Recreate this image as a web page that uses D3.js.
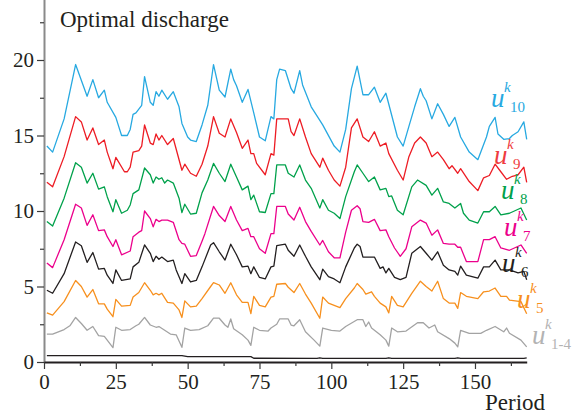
<!DOCTYPE html>
<html lang="en">
<head>
  <meta charset="utf-8">
  <title>Optimal discharge</title>
  <script src="https://d3js.org/d3.v7.min.js"></script>
  <style>
    body { margin: 0; background: #fff; }
    svg { display: block; }
    .series { fill: none; stroke-width: 1.3; stroke-linejoin: round; }
    .yaxis path.domain { stroke: #8a8a8a; stroke-width: 2; }
    .xaxis path.domain { stroke: #231f20; stroke-width: 2; }
    .axis line { stroke: #3a3a3a; stroke-width: 1.2; }
  </style>
</head>
<body>
<div id="chart"></div>
<script>
// ---- data: [period, value] ----
var u10 = [[1,14.3],[3,13.9],[7,16.1],[11,19.7],[15,17.6],[17,18.7],[19,17.5],[21,18.0],[22,17.2],[25,16.2],[27,15.0],[29,15.0],[30,15.4],[31,16.4],[32,16.5],[34,17.0],[35,18.9],[37,17.2],[38,17.0],[39,17.9],[40,17.6],[41,18.0],[43,17.4],[45,17.9],[47,16.9],[48,15.8],[50,14.9],[51,14.7],[53,14.6],[55,15.7],[57,17.0],[59,19.7],[61,18.0],[63,17.55],[65,19.4],[66,18.7],[67,18.3],[69,17.2],[71,18.05],[73,16.5],[75,14.9],[77,14.65],[79,16.25],[80,16.1],[81,18.7],[82,19.4],[84,19.3],[86,18.1],[87,17.8],[89,19.3],[90,18.35],[93,16.9],[97,15.7],[101,14.3],[103,13.9],[105,15.4],[107,18.1],[109,19.6],[111,17.7],[113,17.7],[115,18.2],[117,17.2],[119,17.8],[123,14.9],[125,14.3],[127,15.6],[129,16.9],[131,18.1],[132,17.6],[133,17.3],[135,16.1],[137,17.1],[139,16.4],[141,15.6],[143,16.2],[145,14.9],[148,13.9],[151,13.4],[154,14.9],[155,15.6],[157,16.2],[158,15.1],[160,14.75],[162,14.8],[163,15.0],[165,15.25],[167,15.9],[168,14.75]];
var u9 = [[1,11.9],[3,11.6],[7,13.6],[11,16.25],[13,15.9],[15,14.7],[17,15.5],[19,14.4],[21,14.7],[22,13.9],[24,12.8],[25,13.55],[28,12.6],[29,12.6],[30,12.9],[31,13.9],[33,14.0],[34,14.3],[35,15.7],[37,14.5],[38,14.4],[39,15.1],[40,14.7],[41,15.0],[43,14.4],[45,14.8],[48,12.7],[49,13.1],[51,12.5],[53,12.3],[55,13.1],[57,14.3],[59,16.25],[61,15.15],[63,14.9],[65,16.1],[67,15.2],[69,14.15],[71,14.7],[72,13.8],[73,13.8],[74,13.15],[77,12.4],[79,13.8],[80,13.7],[81,16.1],[83,16.1],[85,16.1],[86,15.25],[87,15.0],[89,16.1],[91,14.9],[93,13.8],[96,12.9],[97,13.5],[99,12.7],[101,12.05],[103,11.65],[105,12.9],[107,15.5],[109,16.1],[111,14.9],[113,14.6],[115,15.25],[117,14.3],[119,14.5],[120,13.8],[123,12.7],[125,12.05],[127,13.6],[129,14.5],[131,14.9],[133,14.5],[135,13.6],[137,13.9],[139,13.4],[141,12.8],[142,13.0],[144,12.5],[145,12.8],[148,11.95],[151,11.35],[153,12.2],[155,12.35],[157,13.1],[159,12.6],[161,12.1],[163,12.3],[165,12.4],[167,12.9],[168,11.9]];
var u8 = [[1,9.3],[3,9.0],[7,10.85],[11,13.2],[13,12.9],[15,11.85],[17,12.5],[19,11.45],[21,11.6],[22,10.95],[24,9.95],[25,10.75],[27,9.85],[29,10.05],[30,10.4],[31,11.15],[33,11.4],[35,12.85],[37,12.4],[38,11.85],[39,12.25],[40,12.1],[41,12.2],[42,11.85],[43,12.05],[45,11.85],[47,10.85],[48,9.9],[49,10.45],[51,9.8],[53,9.85],[55,11.2],[57,12.05],[59,13.15],[61,12.5],[63,11.95],[65,13.1],[67,12.25],[69,11.4],[71,11.65],[72,10.75],[73,11.05],[75,9.95],[77,9.9],[79,11.15],[80,11.15],[81,13.05],[84,13.05],[85,12.5],[87,12.25],[89,13.05],[91,12.05],[93,11.5],[96,10.2],[97,10.75],[99,10.05],[101,9.85],[103,9.5],[105,10.95],[108,12.6],[109,13.05],[111,12.5],[113,11.95],[115,12.25],[117,11.4],[119,11.5],[120,10.95],[121,11.0],[123,10.05],[125,9.75],[128,11.6],[130,12.05],[133,11.7],[135,11.05],[137,11.5],[139,10.6],[141,10.5],[143,10.2],[145,10.5],[146,9.85],[148,9.4],[151,9.2],[153,9.95],[155,9.95],[157,10.3],[159,9.75],[162,9.85],[166,10.2],[168,9.4]];
var u7 = [[1,6.55],[3,6.25],[7,8.1],[11,10.45],[13,10.2],[15,9.05],[17,9.75],[19,8.7],[21,8.75],[22,8.3],[24,7.65],[25,8.1],[27,7.1],[30,7.35],[31,8.3],[33,8.6],[34,8.7],[35,10.0],[37,9.5],[38,8.95],[39,9.45],[40,9.3],[41,9.4],[43,9.4],[45,9.25],[47,8.1],[48,7.85],[49,7.8],[51,7.0],[53,7.05],[55,8.0],[56,8.5],[59,10.3],[61,9.7],[63,9.3],[65,10.3],[67,9.4],[69,8.7],[71,8.85],[72,8.3],[73,8.3],[75,7.5],[77,7.2],[79,8.5],[80,8.5],[81,10.3],[84,10.3],[85,9.8],[87,9.4],[89,10.25],[91,9.3],[93,8.65],[96,7.75],[97,8.05],[99,7.3],[101,6.9],[103,6.9],[105,8.6],[107,10.05],[109,10.35],[110,10.15],[111,9.3],[113,9.25],[115,9.45],[117,8.7],[119,8.75],[120,8.3],[122,7.55],[124,7.0],[126,7.5],[128,8.95],[131,9.4],[133,9.2],[135,8.4],[137,8.75],[139,7.85],[141,7.8],[143,7.8],[144,7.6],[145,7.6],[147,6.65],[151,6.65],[153,8.1],[155,8.1],[157,8.3],[159,7.55],[162,7.4],[166,7.75],[168,7.2]];
var u6 = [[1,4.75],[3,4.55],[7,5.85],[11,7.95],[13,7.7],[15,6.6],[17,7.25],[19,6.15],[21,6.2],[22,5.75],[24,5.2],[25,6.1],[27,5.4],[30,5.5],[31,6.3],[33,6.6],[35,7.75],[37,7.2],[38,6.65],[39,7.0],[40,6.8],[41,6.95],[43,6.65],[45,6.75],[46,6.1],[48,5.2],[49,5.85],[51,5.3],[53,5.4],[55,6.3],[58,7.75],[59,7.9],[61,7.3],[63,6.75],[65,7.8],[67,7.1],[69,6.3],[71,6.35],[72,5.85],[73,6.3],[75,5.6],[77,5.5],[79,6.3],[80,6.35],[81,7.7],[84,7.8],[85,7.4],[87,7.0],[89,7.75],[91,7.0],[93,6.3],[96,5.45],[97,6.15],[99,5.65],[101,5.5],[103,5.25],[105,6.3],[108,7.55],[109,7.8],[110,7.65],[111,6.95],[113,6.95],[115,6.95],[117,6.2],[118,6.3],[119,5.9],[120,6.2],[122,5.6],[124,5.45],[126,5.6],[128,7.2],[131,7.65],[133,7.2],[135,6.75],[137,7.3],[139,6.4],[141,6.1],[143,6.0],[144,5.75],[145,6.35],[147,5.75],[151,5.55],[153,6.3],[155,6.3],[157,6.75],[159,6.1],[162,6.1],[165,5.9],[167,6.0],[168,5.45]];
var u5 = [[1,3.25],[3,3.1],[7,4.0],[11,5.4],[13,5.0],[15,4.3],[17,4.8],[19,3.85],[21,3.85],[22,3.5],[24,3.0],[25,4.15],[27,3.7],[30,3.75],[31,4.3],[33,4.6],[35,5.25],[37,4.75],[38,4.45],[39,4.55],[40,4.45],[41,4.55],[43,3.95],[45,3.9],[47,3.45],[48,2.95],[49,4.05],[51,3.65],[53,3.7],[55,4.2],[58,5.0],[59,5.25],[61,5.1],[63,4.55],[65,5.25],[67,4.45],[69,3.95],[71,3.95],[72,3.2],[73,4.35],[75,3.75],[77,3.65],[79,4.3],[80,4.35],[81,5.15],[84,5.2],[85,4.95],[87,4.6],[89,5.2],[91,4.5],[93,3.9],[96,2.9],[97,4.3],[99,3.9],[101,3.75],[103,3.6],[105,4.2],[108,4.9],[109,5.2],[111,4.8],[112,4.5],[114,4.65],[115,4.35],[117,3.9],[119,3.65],[120,3.25],[121,4.35],[123,3.75],[125,3.65],[128,4.55],[131,5.35],[133,5.0],[135,4.7],[137,5.35],[139,4.2],[141,3.9],[143,3.9],[144,3.55],[145,4.6],[147,4.35],[151,4.2],[153,4.65],[155,4.7],[157,4.9],[159,4.35],[161,4.35],[162,4.1],[166,4.0],[168,3.2]];
var u14 = [[1,1.85],[3,1.85],[7,2.15],[9,2.4],[11,2.95],[13,2.55],[15,2.1],[17,2.35],[19,1.75],[21,1.7],[22,1.45],[24,0.95],[25,2.3],[27,2.1],[30,2.15],[32,2.4],[33,2.5],[35,2.95],[37,2.45],[39,2.3],[40,2.35],[42,2.1],[44,1.85],[46,1.8],[48,0.97],[49,2.25],[51,2.1],[54,2.15],[57,2.4],[59,2.9],[61,2.9],[63,2.45],[64,2.3],[65,2.85],[66,2.2],[69,1.8],[71,1.45],[72,1.1],[73,2.3],[75,2.1],[78,2.05],[79,2.25],[81,2.5],[82,2.85],[85,2.85],[86,2.45],[87,2.4],[89,2.8],[91,2.0],[94,1.45],[96,1.05],[97,2.25],[100,2.1],[103,2.05],[105,2.35],[109,2.8],[111,2.8],[112,2.35],[113,2.65],[114,2.25],[117,1.8],[119,1.45],[120,1.05],[121,2.25],[123,2.0],[126,2.05],[130,2.6],[132,2.6],[134,2.25],[136,2.45],[137,2.0],[141,1.55],[143,1.25],[144,1.0],[145,2.1],[148,1.9],[152,1.9],[154,2.1],[157,2.35],[160,2.0],[161,2.25],[162,1.9],[166,1.45],[168,1.0]];
var base = [[1,0.42],[48,0.42],[50,0.36],[72,0.36],[73,0.25],[95,0.24],[96,0.28],[97,0.24],[119,0.24],[120,0.28],[121,0.24],[143,0.24],[144,0.28],[145,0.24],[167,0.24],[168,0.28]];

var xMajor = [0, 25, 50, 75, 100, 125, 150];
var xMinor = [12.5, 37.5, 62.5, 87.5, 112.5, 137.5, 162.5];
var yMajor = [0, 5, 10, 15, 20];
var yMinor = [2.5, 7.5, 12.5, 17.5, 22.5];

var seriesNames = ["10", "9", "8", "7", "6", "5", "1-4", ""];
var seriesData = [u10, u9, u8, u7, u6, u5, u14, base];

// ---- styling / layout ----
var FONT = "Liberation Serif";
var colors = ["#27a9e1", "#ed1c24", "#00a14b", "#ec008c", "#231f20", "#f7901e", "#a3a3a3", "#231f20"];
var labelColors = ["#27a9e1", "#ef3b40", "#00a14b", "#ec008c", "#231f20", "#f7901e", "#b3b3b3"];
// label anchor: left x of "u", baseline y of "u"
var labelPos = [[491, 107], [494, 164], [501, 199], [504, 236], [502, 272], [517, 308], [532, 344]];

var W = 577, H = 416;
var svg = d3.select("#chart").append("svg")
  .attr("width", W)
  .attr("height", H);

var x = d3.scaleLinear().domain([0, 168]).range([44, 526.7]);
var y = d3.scaleLinear().domain([0, 20]).range([362, 60]);

// y axis (runs up to the top edge)
svg.append("g")
  .attr("class", "axis yaxis")
  .attr("transform", "translate(44,0)")
  .call(d3.axisLeft(y.copy().domain([0, 24]).range([362, y(24)]))
    .tickValues(yMajor).tickSize(7).tickSizeOuter(0).tickPadding(3));

svg.append("g")
  .attr("class", "axis")
  .attr("transform", "translate(44,0)")
  .call(d3.axisLeft(y).tickValues(yMinor).tickSize(4).tickFormat(""))
  .select(".domain").remove();

// x axis
svg.append("g")
  .attr("class", "axis xaxis")
  .attr("transform", "translate(0,362)")
  .call(d3.axisBottom(x).tickValues(xMajor).tickSize(7).tickSizeOuter(0).tickPadding(5));

svg.append("g")
  .attr("class", "axis")
  .attr("transform", "translate(0,362)")
  .call(d3.axisBottom(x).tickValues(xMinor).tickSize(4).tickFormat(""))
  .select(".domain").remove();

svg.selectAll(".axis text")
  .style("font-family", FONT)
  .style("font-size", "21px")
  .attr("fill", "#231f20");

// lines
var line = d3.line()
  .x(function (d) { return x(d[0]); })
  .y(function (d) { return y(d[1]); });

svg.selectAll("path.series")
  .data(seriesData)
  .enter().append("path")
  .attr("class", "series")
  .attr("stroke", function (d, i) { return colors[i]; })
  .attr("stroke-width", function (d, i) { return i === 7 ? 1.1 : 1.3; })
  .attr("d", line);

// series labels  u^k_n
labelPos.forEach(function (p, i) {
  var g = svg.append("g").attr("fill", labelColors[i])
    .style("font-family", FONT).style("font-style", "italic");
  g.append("text").attr("x", p[0]).attr("y", p[1])
    .style("font-size", "27px").text("u");
  g.append("text").attr("x", p[0] + 13).attr("y", p[1] - 15)
    .style("font-size", "15px").text("k");
  g.append("text").attr("x", p[0] + 19).attr("y", p[1] + 5)
    .style("font-size", "15px").style("font-style", "normal").text(seriesNames[i]);
});

// titles
svg.append("text")
  .attr("x", 60).attr("y", 27)
  .style("font-family", FONT).style("font-size", "23px").attr("fill", "#231f20")
  .text("Optimal discharge");

svg.append("text")
  .attr("x", 485).attr("y", 410)
  .style("font-family", FONT).style("font-size", "23px").attr("fill", "#231f20")
  .text("Period");
</script>
</body>
</html>
